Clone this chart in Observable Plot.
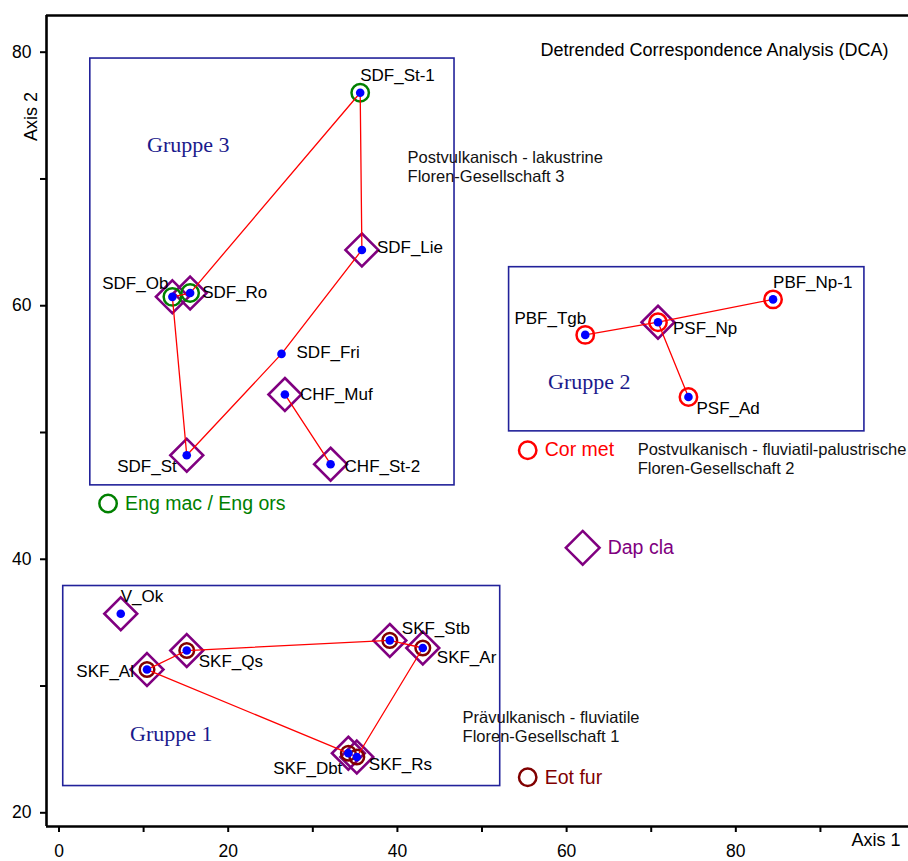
<!DOCTYPE html>
<html>
<head>
<meta charset="utf-8">
<script src="https://cdn.jsdelivr.net/npm/d3@7"></script>
<script src="https://cdn.jsdelivr.net/npm/@observablehq/plot@0.6"></script>
<style>
  html, body { margin: 0; padding: 0; background: #fff; }
</style>
</head>
<body>
<div id="chart"></div>
<script>
// ---------- data ----------
const siteNames = ["SDF_St-1","SDF_Lie","SDF_Ob","SDF_Ro","SDF_Fri","CHF_Muf","SDF_St","CHF_St-2",
                   "PBF_Np-1","PSF_Np","PBF_Tgb","PSF_Ad",
                   "V_Ok","SKF_Al","SKF_Qs","SKF_Stb","SKF_Ar","SKF_Dbt","SKF_Rs"];
const axis1 = [35.6, 35.8, 13.4, 15.5, 26.3, 26.7, 15.1, 32.1,
               84.4, 70.8, 62.2, 74.4,
               7.3, 10.4, 15.1, 39.1, 43.0, 34.2, 35.2];
const axis2 = [76.8, 64.4, 60.7, 61.0, 56.2, 53.0, 48.2, 47.5,
               60.5, 58.7, 57.7, 52.8,
               35.7, 31.3, 32.8, 33.6, 33.0, 24.7, 24.4];

// species occurrences at sites
const dapClaSites = ["SDF_Lie","SDF_Ob","SDF_Ro","CHF_Muf","SDF_St","CHF_St-2","PSF_Np",
                     "V_Ok","SKF_Al","SKF_Qs","SKF_Stb","SKF_Ar","SKF_Dbt","SKF_Rs"];
const engMacSites = ["SDF_St-1","SDF_Ob","SDF_Ro"];
const corMetSites = ["PBF_Np-1","PSF_Np","PBF_Tgb","PSF_Ad"];
const eotFurSites = ["SKF_Al","SKF_Qs","SKF_Stb","SKF_Ar","SKF_Dbt","SKF_Rs"];

// connecting paths
const linkPaths = [
  ["SDF_St-1","SDF_Lie","SDF_Fri","SDF_St","SDF_Ob","SDF_Ro","SDF_St-1"],
  ["CHF_Muf","CHF_St-2"],
  ["PBF_Tgb","PSF_Np","PBF_Np-1"],
  ["PSF_Np","PSF_Ad"],
  ["SKF_Al","SKF_Qs","SKF_Stb","SKF_Ar","SKF_Rs","SKF_Dbt","SKF_Al"]
];

// group boxes
const groupNames = ["Gruppe 3","Gruppe 2","Gruppe 1"];
const groupX1 = [3.7, 53.2, 0.5];
const groupX2 = [46.75, 95.2, 52.15];
const groupY1 = [45.83, 50.09, 22.11];
const groupY2 = [79.5, 63.04, 37.89];
const groupLabelX = [10.4, 57.8, 8.4];
const groupLabelY = [72.1, 53.4, 25.7];

// annotations
const annotationTexts = ["Postvulkanisch - lakustrine\nFloren-Gesellschaft 3",
                         "Postvulkanisch - fluviatil-palustrische\nFloren-Gesellschaft 2",
                         "Prävulkanisch - fluviatile\nFloren-Gesellschaft 1"];
const annotationX = [41.2, 68.4, 47.7];
const annotationY = [70.96, 47.93, 26.82];

// legend entries
const legendNames = ["Eng mac / Eng ors","Cor met","Dap cla","Eot fur"];
const legendX = [5.8, 55.4, 61.9, 55.4];
const legendY = [44.4, 48.6, 40.9, 22.8];

const titleText = "Detrended Correspondence Analysis (DCA)";
const titleX = 56.9, titleY = 80.13;

// axes
const xDomain = [-1.478, 100.41];
const yDomain = [18.919, 82.895];
const xTickValues = [0,10,20,30,40,50,60,70,80,90];
const xTickLabels = ["0","","20","","40","","60","","80",""];
const yTickValues = [20,30,40,50,60,70,80];
const yTickLabels = ["20","","40","","60","","80"];

// ---------- styles (not data) ----------
const labelPlacement = {
  "SDF_St-1": ["start", 0, -17], "SDF_Lie": ["start", 15, -2], "SDF_Ob": ["end", -4, -13],
  "SDF_Ro": ["start", 12, -1], "SDF_Fri": ["start", 15, -1], "CHF_Muf": ["start", 15, 0],
  "SDF_St": ["end", -10, 11], "CHF_St-2": ["start", 14, 2], "PBF_Np-1": ["start", 0, -17],
  "PSF_Np": ["start", 15, 6], "PBF_Tgb": ["end", 1, -16], "PSF_Ad": ["start", 8, 12],
  "V_Ok": ["start", 0, -17], "SKF_Al": ["end", -13, 2], "SKF_Qs": ["start", 12, 11],
  "SKF_Stb": ["start", 12, -12], "SKF_Ar": ["start", 14, 10], "SKF_Dbt": ["end", -6, 15],
  "SKF_Rs": ["start", 12, 8]
};
const legendStyle = [
  {symbol: "circle", color: "#008000", r: 8.7, dx: 17},
  {symbol: "circle", color: "#ff0000", r: 8.7, dx: 17},
  {symbol: "diamond2", color: "#800080", r: 15.2, dx: 25},
  {symbol: "circle", color: "#800000", r: 8.7, dx: 17}
];
const boxColor = "#22229a";
const groupTextColor = "#1a1a8c";

// ---------- build tables ----------
const sites = siteNames.map((name, i) => ({name, x: axis1[i], y: axis2[i]}));
const siteBy = new Map(sites.map(d => [d.name, d]));
const pick = names => names.map(n => siteBy.get(n));
const lineData = linkPaths.flatMap((p, k) => p.map(n => ({...siteBy.get(n), path: k})));
const groups = groupNames.map((name, i) => ({name, x1: groupX1[i], x2: groupX2[i], y1: groupY1[i], y2: groupY2[i], lx: groupLabelX[i], ly: groupLabelY[i]}));
const annotations = annotationTexts.map((text, i) => ({text, x: annotationX[i], y: annotationY[i]}));
const legend = legendNames.map((name, i) => ({name, x: legendX[i], y: legendY[i], ...legendStyle[i]}));

const FONT = "'Liberation Sans', Arial, Helvetica, sans-serif";

const marks = [
  // group boxes
  Plot.rect(groups, {x1: "x1", x2: "x2", y1: "y1", y2: "y2", fill: "none", stroke: boxColor, strokeWidth: 1.6}),
  Plot.text(groups, {x: "lx", y: "ly", text: "name", textAnchor: "start", lineAnchor: "bottom",
                     fill: groupTextColor, fontSize: 22, fontFamily: "'Liberation Serif', 'Times New Roman', serif"}),
  // annotation texts (white background added afterwards)
  Plot.text(annotations, {x: "x", y: "y", text: "text", textAnchor: "start", lineAnchor: "middle",
                          lineHeight: 1.15, fontSize: 16.5, fill: "#111", ariaLabel: "annotation"}),
  // species symbols
  Plot.dot(pick(dapClaSites), {x: "x", y: "y", symbol: "diamond2", r: 14.8, stroke: "#800080", strokeWidth: 2.6, fill: "none"}),
  Plot.dot(pick(engMacSites), {x: "x", y: "y", r: 8.7, stroke: "#008000", strokeWidth: 2.5, fill: "none"}),
  Plot.dot(pick(corMetSites), {x: "x", y: "y", r: 8.7, stroke: "#ff0000", strokeWidth: 2.5, fill: "none"}),
  Plot.dot(pick(eotFurSites), {x: "x", y: "y", r: 7.3, stroke: "#800000", strokeWidth: 2.5, fill: "none"}),
  // connecting lines
  Plot.line(lineData, {x: "x", y: "y", z: "path", stroke: "#ff0000", strokeWidth: 1.3}),
  // sample points
  Plot.dot(sites, {x: "x", y: "y", r: 4.3, fill: "#0000ff"}),
  // site labels
  ...sites.map(d => {
    const [anchor, dx, dy] = labelPlacement[d.name];
    return Plot.text([d], {x: "x", y: "y", text: "name", textAnchor: anchor, dx, dy, fontSize: 17, fill: "#000"});
  }),
  // legend
  ...legend.map(d => Plot.dot([d], {x: "x", y: "y", symbol: d.symbol, r: d.r, stroke: d.color, strokeWidth: 2.5, fill: "none"})),
  ...legend.map(d => Plot.text([d], {x: "x", y: "y", text: "name", dx: d.dx, textAnchor: "start", fill: d.color, fontSize: 19.5})),
  // title
  Plot.text([titleText], {x: titleX, y: titleY, text: d => d, textAnchor: "start", fontSize: 18, fill: "#000"}),
  // axes
  Plot.axisX({ticks: xTickValues, tickFormat: d => xTickLabels[xTickValues.indexOf(d)], tickSize: 6, tickPadding: 12,
              strokeWidth: 2, fontSize: 17.5, label: null, anchor: "bottom", fill: "#000", color: "#000"}),
  Plot.axisY({ticks: yTickValues, tickFormat: d => yTickLabels[yTickValues.indexOf(d)], tickSize: 6, tickPadding: 9,
              strokeWidth: 2, fontSize: 17.5, label: null, anchor: "left", fill: "#000", color: "#000"}),
  Plot.ruleX([xDomain[0]], {stroke: "#000", strokeWidth: 2.6}),
  Plot.ruleY([yDomain[0]], {stroke: "#000", strokeWidth: 2.6}),
  Plot.ruleY([yDomain[1]], {stroke: "#000", strokeWidth: 2.6}),
  // axis titles
  Plot.text(["Axis 1"], {frameAnchor: "bottom-right", text: d => d, textAnchor: "end", dx: -8, dy: 19, fontSize: 18, fill: "#000"}),
  Plot.text(["Axis 2"], {frameAnchor: "top-left", text: d => d, textAnchor: "middle", rotate: -90, dx: -22, dy: 101, fontSize: 18, fill: "#000"})
];

const chart = Plot.plot({
  width: 908,
  height: 861,
  marginLeft: 46,
  marginRight: 0,
  marginTop: 15,
  marginBottom: 35,
  x: {domain: xDomain, axis: null},
  y: {domain: yDomain, axis: null},
  style: {fontFamily: FONT, fontSize: "17px", background: "#fff", color: "#000", overflow: "visible"},
  marks
});

document.getElementById("chart").append(chart);

// white backgrounds behind annotation blocks (interrupting the box borders)
const NS = "http://www.w3.org/2000/svg";
chart.querySelectorAll('g[aria-label="annotation"] text').forEach(t => {
  const b = t.getBBox();
  const r = document.createElementNS(NS, "rect");
  const pad = 4;
  r.setAttribute("x", b.x - pad);
  r.setAttribute("y", b.y - pad);
  r.setAttribute("width", b.width + 2 * pad);
  r.setAttribute("height", b.height + 2 * pad);
  r.setAttribute("fill", "#fff");
  const tr = t.getAttribute("transform");
  if (tr) r.setAttribute("transform", tr);
  t.parentNode.insertBefore(r, t);
});
</script>
</body>
</html>
